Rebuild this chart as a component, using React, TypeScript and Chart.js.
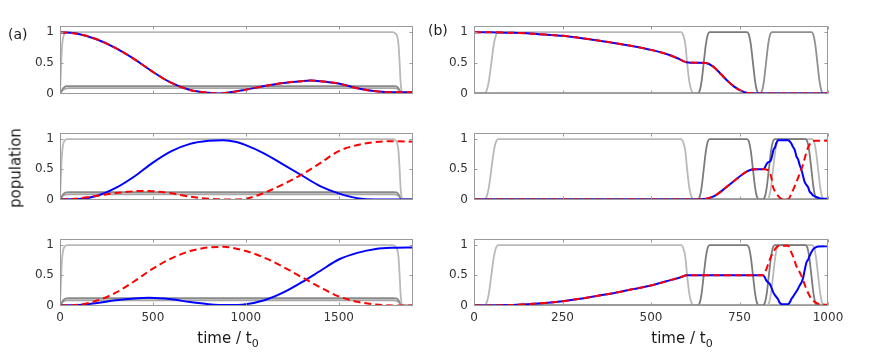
import React, { useEffect, useRef } from 'react';
import { Chart, registerables } from 'chart.js';
Chart.register(...registerables);

// ---------------- data ----------------
const xTicksA = [0, 500, 1000, 1500];
const xTicksB = [0, 250, 500, 750, 1000];
const yTicks = [0, 0.5, 1];

// (a) control pulses
const pulseA_t = [0, 5, 10, 15, 22, 30, 40, 1790, 1805, 1815, 1822, 1828, 1833, 1838, 1842, 1900];
const pulseA_v = [0, 0.4, 0.72, 0.88, 0.96, 0.99, 1, 1, 0.98, 0.93, 0.8, 0.5, 0.2, 0.04, 0, 0];
const plateauA_t = [0, 8, 16, 25, 35, 50, 1795, 1810, 1818, 1825, 1832, 1838, 1900];
const plateauHiA_v = [0, 0.04, 0.08, 0.105, 0.117, 0.12, 0.12, 0.115, 0.1, 0.07, 0.03, 0, 0];
const plateauLoA_v = [0, 0.03, 0.06, 0.075, 0.083, 0.085, 0.085, 0.08, 0.07, 0.05, 0.02, 0, 0];

// (a) row 1 populations (blue = red)
const tA1 = [0, 100, 200, 300, 400, 500, 600, 700, 800, 850, 900, 1000, 1100, 1200, 1300, 1350, 1400, 1500, 1600, 1700, 1800, 1850, 1900];
const popA1 = [1.0, 0.97, 0.88, 0.74, 0.56, 0.35, 0.17, 0.055, 0.01, 0.0, 0.01, 0.06, 0.12, 0.17, 0.2, 0.21, 0.2, 0.16, 0.085, 0.035, 0.02, 0.02, 0.02];

// (a) row 2
const tBlueA2 = [0, 100, 200, 300, 400, 500, 600, 700, 800, 880, 950, 1000, 1100, 1200, 1300, 1400, 1500, 1600, 1700, 1800, 1900];
const blueA2 = [0, 0.005, 0.06, 0.19, 0.38, 0.61, 0.8, 0.92, 0.97, 0.98, 0.95, 0.9, 0.76, 0.58, 0.4, 0.22, 0.1, 0.02, 0, 0, 0];
const tRedA2 = [0, 100, 200, 300, 400, 450, 500, 600, 700, 800, 900, 950, 1000, 1100, 1200, 1300, 1400, 1500, 1600, 1700, 1800, 1900];
const redA2 = [0, 0.015, 0.06, 0.105, 0.135, 0.14, 0.135, 0.1, 0.045, 0.01, 0, 0, 0.01, 0.11, 0.25, 0.41, 0.6, 0.8, 0.9, 0.95, 0.965, 0.955];

// (a) row 3
const tRedA3 = [0, 100, 200, 300, 400, 500, 600, 700, 800, 880, 1000, 1100, 1200, 1300, 1400, 1500, 1600, 1700, 1800, 1900];
const redA3 = [0, 0.01, 0.08, 0.21, 0.4, 0.61, 0.78, 0.9, 0.96, 0.97, 0.9, 0.79, 0.64, 0.47, 0.3, 0.15, 0.06, 0.015, 0, 0];
const tBlueA3 = [0, 100, 200, 300, 400, 480, 600, 700, 800, 900, 1000, 1100, 1200, 1300, 1400, 1500, 1600, 1700, 1800, 1900];
const blueA3 = [0, 0.005, 0.04, 0.085, 0.115, 0.125, 0.1, 0.055, 0.02, 0.005, 0.02, 0.085, 0.21, 0.38, 0.57, 0.76, 0.87, 0.935, 0.955, 0.96];

// (b) pulses
const pulseB1_t = [0, 30, 36, 42, 49, 56, 62, 68, 585, 591, 597, 602, 608, 614, 620, 1000];
const pulseB1_v = [0, 0, 0.05, 0.2, 0.5, 0.8, 0.95, 1, 1, 0.95, 0.8, 0.5, 0.2, 0.05, 0, 0];
const pulseB2_t = [0, 632, 638, 643, 649, 655, 660, 666, 771, 777, 782, 788, 794, 799, 805, 1000];
const pulseB2_v = [0, 0, 0.05, 0.2, 0.5, 0.8, 0.95, 1, 1, 0.95, 0.8, 0.5, 0.2, 0.05, 0, 0];
const pulseB3_t = [0, 808, 814, 819, 825, 831, 836, 842, 953, 959, 964, 970, 976, 981, 987, 1000];
const pulseB3_v = [0, 0, 0.05, 0.2, 0.5, 0.8, 0.95, 1, 1, 0.95, 0.8, 0.5, 0.2, 0.05, 0, 0];
const pulseB3d_t = [0, 816, 822, 827, 833, 839, 844, 850, 936, 942, 947, 953, 959, 964, 970, 1000];
const pulseB3l_t = [0, 828, 834, 839, 845, 851, 856, 862, 955, 961, 966, 972, 978, 983, 989, 1000];

// (b) row 1 populations (blue = red)
const tB1 = [0, 50, 100, 150, 200, 250, 300, 350, 400, 450, 500, 550, 580, 600, 630, 655, 675, 695, 715, 735, 755, 775, 800, 1000];
const popB1 = [1, 0.998, 0.99, 0.98, 0.96, 0.94, 0.905, 0.865, 0.82, 0.77, 0.71, 0.63, 0.56, 0.51, 0.5, 0.495, 0.44, 0.33, 0.21, 0.11, 0.04, 0.005, 0, 0];

// (b) row 2
const tBlueB2 = [0, 600, 635, 650, 665, 680, 695, 710, 725, 740, 755, 770, 785, 800, 816, 821, 825, 830, 838, 842, 846, 850, 854, 859, 887, 892, 896, 901, 906, 911, 915, 920, 925, 929, 934, 939, 944, 948, 953, 957, 967, 976, 990, 1000];
const blueB2 = [0, 0, 0, 0.005, 0.025, 0.06, 0.12, 0.19, 0.26, 0.33, 0.4, 0.46, 0.495, 0.5, 0.5, 0.52, 0.57, 0.61, 0.64, 0.72, 0.82, 0.86, 0.93, 0.98, 0.98, 0.96, 0.93, 0.87, 0.82, 0.71, 0.67, 0.57, 0.49, 0.4, 0.29, 0.24, 0.2, 0.13, 0.1, 0.07, 0.04, 0.02, 0.01, 0.01];
const tRedB2 = [0, 600, 635, 650, 665, 680, 695, 710, 725, 740, 755, 770, 785, 800, 816, 821, 828, 835, 840, 845, 852, 859, 868, 887, 897, 906, 915, 922, 929, 936, 943, 953, 962, 1000];
const redB2 = [0, 0, 0, 0.005, 0.025, 0.06, 0.12, 0.19, 0.26, 0.33, 0.4, 0.46, 0.495, 0.5, 0.5, 0.5, 0.49, 0.46, 0.36, 0.2, 0.12, 0.06, 0.01, 0, 0.1, 0.22, 0.35, 0.46, 0.57, 0.72, 0.85, 0.95, 0.97, 0.97];

// (b) row 3
const tBlueB3 = [0, 50, 100, 150, 200, 250, 300, 350, 400, 450, 500, 550, 590, 600, 700, 816, 821, 826, 831, 835, 840, 845, 850, 854, 859, 864, 870, 887, 892, 897, 902, 906, 913, 920, 925, 929, 934, 939, 944, 948, 953, 958, 965, 972, 1000];
const blueB3 = [0, 0, 0.005, 0.02, 0.04, 0.07, 0.11, 0.16, 0.21, 0.27, 0.33, 0.41, 0.48, 0.5, 0.5, 0.5, 0.47, 0.41, 0.38, 0.36, 0.3, 0.22, 0.17, 0.14, 0.1, 0.04, 0.02, 0.02, 0.05, 0.11, 0.15, 0.19, 0.25, 0.33, 0.38, 0.44, 0.58, 0.71, 0.76, 0.82, 0.88, 0.93, 0.96, 0.975, 0.98];
const tRedB3 = [0, 50, 100, 150, 200, 250, 300, 350, 400, 450, 500, 550, 590, 600, 700, 816, 821, 826, 833, 840, 847, 854, 864, 887, 897, 904, 910, 918, 925, 932, 939, 946, 953, 960, 967, 976, 1000];
const redB3 = [0, 0, 0.005, 0.02, 0.04, 0.07, 0.11, 0.16, 0.21, 0.27, 0.33, 0.41, 0.48, 0.5, 0.5, 0.5, 0.54, 0.6, 0.72, 0.82, 0.9, 0.96, 0.99, 0.99, 0.87, 0.77, 0.66, 0.57, 0.49, 0.38, 0.27, 0.18, 0.11, 0.07, 0.04, 0.02, 0.01];

// ---------------- styles ----------------
const BLUE = '#0000ff';
const RED = '#ff0000';
const GRAY_LIGHT = '#b9b9b9';
const GRAY_DARK = '#7b7b7b';
const GRAY_MID = '#909090';
const GRAY_PLAT_HI = '#8a8a8a';
const GRAY_PLAT_LO = '#a6a6a6';
const BOX = '#9a9a9a';
const TICK_TEXT = '#333333';
const FONT = 'DejaVu Sans';

const PAD_L = 50, PAD_T = 10, PAD_R = 25, PAD_B = 30;

type Line = { t: number[]; v: number[]; color: string; width: number; dash?: number[] };
type PanelCfg = { box: [number, number, number, number]; xMax: number; xTicks: number[]; showX: boolean; lines: Line[] };

const blue = (t: number[], v: number[]): Line => ({ t, v, color: BLUE, width: 2 });
const red = (t: number[], v: number[]): Line => ({ t, v, color: RED, width: 2, dash: [7, 4] });
const gray = (t: number[], v: number[], color: string): Line => ({ t, v, color, width: 1.8 });

const grayA = [
  gray(plateauA_t, plateauLoA_v, GRAY_PLAT_LO),
  gray(plateauA_t, plateauHiA_v, GRAY_PLAT_HI),
  gray(pulseA_t, pulseA_v, GRAY_LIGHT),
];
const grayB1 = [
  gray(pulseB1_t, pulseB1_v, GRAY_LIGHT),
  gray(pulseB2_t, pulseB2_v, GRAY_DARK),
  gray(pulseB3_t, pulseB3_v, GRAY_MID),
];
const grayB23 = [
  gray(pulseB1_t, pulseB1_v, GRAY_LIGHT),
  gray(pulseB2_t, pulseB2_v, GRAY_DARK),
  gray(pulseB3l_t, pulseB3_v, GRAY_LIGHT),
  gray(pulseB3d_t, pulseB3_v, GRAY_DARK),
];

const COL_A = 60, COL_B = 474, W_A = 353, W_B = 354;
const ROWS: [number, number][] = [[26, 68], [133, 67], [239, 67]];

const panels: PanelCfg[] = [
  { box: [COL_A, ROWS[0][0], W_A, ROWS[0][1]], xMax: 1900, xTicks: xTicksA, showX: false, lines: [...grayA, blue(tA1, popA1), red(tA1, popA1)] },
  { box: [COL_A, ROWS[1][0], W_A, ROWS[1][1]], xMax: 1900, xTicks: xTicksA, showX: false, lines: [...grayA, blue(tBlueA2, blueA2), red(tRedA2, redA2)] },
  { box: [COL_A, ROWS[2][0], W_A, ROWS[2][1]], xMax: 1900, xTicks: xTicksA, showX: true, lines: [...grayA, blue(tBlueA3, blueA3), red(tRedA3, redA3)] },
  { box: [COL_B, ROWS[0][0], W_B, ROWS[0][1]], xMax: 1000, xTicks: xTicksB, showX: false, lines: [...grayB1, blue(tB1, popB1), red(tB1, popB1)] },
  { box: [COL_B, ROWS[1][0], W_B, ROWS[1][1]], xMax: 1000, xTicks: xTicksB, showX: false, lines: [...grayB23, blue(tBlueB2, blueB2), red(tRedB2, redB2)] },
  { box: [COL_B, ROWS[2][0], W_B, ROWS[2][1]], xMax: 1000, xTicks: xTicksB, showX: true, lines: [...grayB23, blue(tBlueB3, blueB3), red(tRedB3, redB3)] },
];

const boxPlugin = {
  id: 'matlabBox',
  afterDatasetsDraw(chart: any) {
    const { ctx, chartArea: a, scales } = chart;
    const L = Math.round(a.left) + 0.5, R = Math.round(a.right) - 0.5;
    const T = Math.round(a.top) + 0.5, B = Math.round(a.bottom) - 0.5;
    ctx.save();
    ctx.strokeStyle = BOX;
    ctx.lineWidth = 1;
    ctx.strokeRect(L, T, R - L, B - T);
    ctx.beginPath();
    scales.x.ticks.forEach((tk: any) => {
      const px = Math.round(scales.x.getPixelForValue(tk.value)) + 0.5;
      ctx.moveTo(px, T); ctx.lineTo(px, T + 3);
      ctx.moveTo(px, B); ctx.lineTo(px, B - 3);
    });
    scales.y.ticks.forEach((tk: any) => {
      const py = Math.round(scales.y.getPixelForValue(tk.value)) + 0.5;
      ctx.moveTo(L, py); ctx.lineTo(L + 3, py);
      ctx.moveTo(R, py); ctx.lineTo(R - 3, py);
    });
    ctx.stroke();
    ctx.restore();
  },
};

function Panel({ cfg }: { cfg: PanelCfg }) {
  const ref = useRef<HTMLCanvasElement>(null);
  const [bl, bt, bw, bh] = cfg.box;
  useEffect(() => {
    const chart = new Chart(ref.current as HTMLCanvasElement, {
      type: 'line',
      data: {
        datasets: cfg.lines.slice().reverse().map((l) => ({
          data: l.t.map((t, i) => ({ x: t, y: l.v[i] })),
          borderColor: l.color,
          borderWidth: l.width,
          borderDash: l.dash || [],
          pointRadius: 0,
          fill: false,
          cubicInterpolationMode: 'monotone' as const,
          borderJoinStyle: 'round' as const,
        })),
      },
      options: {
        animation: false,
        responsive: false,
        devicePixelRatio: 1,
        events: [],
        layout: { padding: { left: 0, top: PAD_T, right: PAD_R, bottom: 0 } },
        plugins: { legend: { display: false }, tooltip: { enabled: false } },
        scales: {
          x: {
            type: 'linear',
            min: 0,
            max: cfg.xMax,
            grid: { display: false, drawTicks: false },
            border: { display: false },
            afterBuildTicks: (s: any) => { s.ticks = cfg.xTicks.map((v) => ({ value: v })); },
            afterFit: (s: any) => { s.height = PAD_B; s.paddingLeft = 0; s.paddingRight = 0; },
            ticks: {
              display: cfg.showX,
              padding: 5,
              maxRotation: 0,
              autoSkip: false,
              color: TICK_TEXT,
              font: { family: FONT, size: 12 },
              callback: (v: any) => String(v),
            },
          },
          y: {
            type: 'linear',
            min: -0.01,
            max: 1.1,
            grid: { display: false, drawTicks: false },
            border: { display: false },
            afterBuildTicks: (s: any) => { s.ticks = yTicks.map((v) => ({ value: v })); },
            afterFit: (s: any) => { s.width = PAD_L; s.paddingTop = 0; s.paddingBottom = 0; },
            ticks: {
              padding: 6,
              color: TICK_TEXT,
              font: { family: FONT, size: 12 },
              callback: (v: any) => String(v),
            },
          },
        },
      } as any,
      plugins: [boxPlugin],
    });
    return () => chart.destroy();
  }, []);
  return (
    <canvas
      ref={ref}
      width={bw + PAD_L + PAD_R}
      height={bh + PAD_T + PAD_B}
      style={{ position: 'absolute', left: bl - PAD_L, top: bt - PAD_T, display: 'block' }}
    />
  );
}

const labelStyle: React.CSSProperties = {
  position: 'absolute',
  fontFamily: FONT,
  color: '#1a1a1a',
  lineHeight: 1,
  whiteSpace: 'nowrap',
};

export default function App() {
  return (
    <div style={{ position: 'fixed', left: 0, top: 0, width: 872, height: 352, background: '#ffffff', overflow: 'hidden' }}>
      {panels.map((p, i) => <Panel key={i} cfg={p} />)}
      <div style={{ ...labelStyle, fontSize: 14, left: 8, top: 34, transform: 'translateY(-50%)' }}>(a)</div>
      <div style={{ ...labelStyle, fontSize: 14, left: 428, top: 30, transform: 'translateY(-50%)' }}>(b)</div>
      <div style={{ ...labelStyle, fontSize: 15, left: 16, top: 168, transform: 'translate(-50%, -50%) rotate(-90deg)' }}>population</div>
      <div style={{ ...labelStyle, fontSize: 15, left: 228, top: 340, transform: 'translate(-50%, -50%)' }}>time / t<sub style={{ fontSize: 11 }}>0</sub></div>
      <div style={{ ...labelStyle, fontSize: 15, left: 682, top: 340, transform: 'translate(-50%, -50%)' }}>time / t<sub style={{ fontSize: 11 }}>0</sub></div>
    </div>
  );
}
